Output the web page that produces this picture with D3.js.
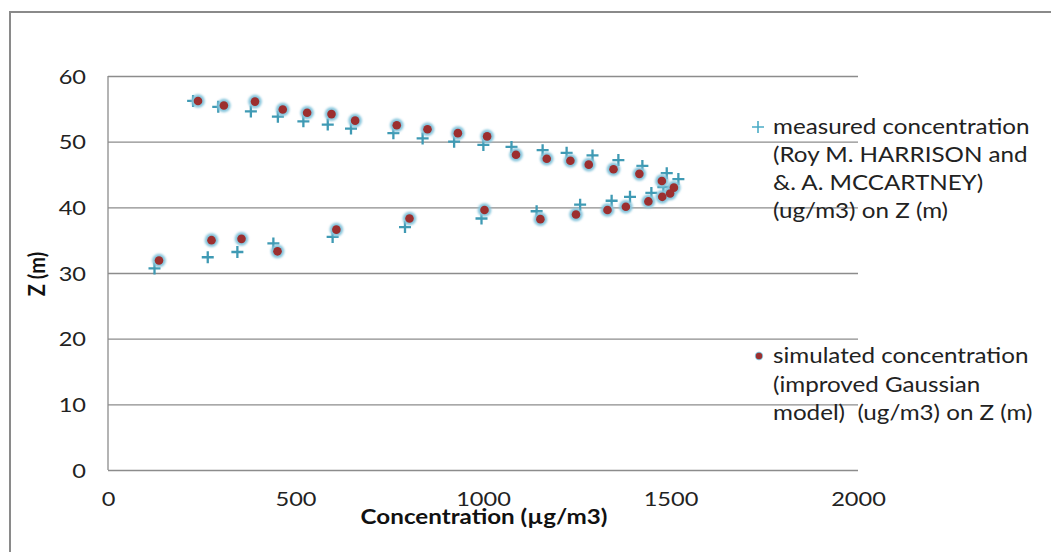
<!DOCTYPE html>
<html><head><meta charset="utf-8">
<script src="https://cdn.jsdelivr.net/npm/d3@7"></script>
<style>
html,body{margin:0;padding:0;background:#fff;}
svg{display:block;font-family:Lato,"Open Sans",sans-serif;}
</style></head>
<body>
<svg id="chart" width="1051" height="552"></svg>
<script>
// Measured concentration (Roy M. HARRISON and A. MCCARTNEY)
const measuredX = [227,294,381,453,521,586,648,761,839,923,1001,1076,1159,1223,1292,1361,1425,1490,1521,
                   1481,1449,1392,1343,1259,1143,996,792,599,441,345,266,124];
const measuredZ = [56.2,55.3,54.6,53.8,53.1,52.6,52.0,51.3,50.5,50.0,49.5,49.2,48.7,48.3,47.9,47.2,46.3,45.2,44.3,
                   43.1,42.2,41.6,41.0,40.4,39.4,38.3,37.0,35.5,34.5,33.2,32.4,30.7];
// Simulated concentration (improved Gaussian model)
const simulatedX = [240,309,392,466,531,596,659,770,852,933,1011,1088,1170,1233,1282,1348,1417,1477,1509,
                    1499,1478,1441,1381,1332,1248,1153,1004,804,609,452,356,276,136];
const simulatedZ = [56.2,55.5,56.1,54.9,54.4,54.2,53.2,52.5,51.9,51.3,50.8,48.0,47.4,47.1,46.5,45.8,45.1,44.0,43.0,
                    42.1,41.6,40.9,40.1,39.6,38.9,38.2,39.6,38.3,36.6,33.3,35.2,35.0,31.9];
const xTicks = [0,500,1000,1500,2000];
const yTicks = [0,10,20,30,40,50,60];
const legendMeasured = ["measured concentration","(Roy M. HARRISON and","&. A. MCCARTNEY)","(ug/m3) on Z (m)"];
const legendSimulated = ["simulated concentration","(improved Gaussian","model)  (ug/m3) on Z (m)"];
const xTitle = "Concentration (\u00b5g/m3)";
const yTitle = "Z (m)";

const SX = 1.18; // horizontal text stretch
const svg = d3.select("#chart");

// glow filter
const defs = svg.append("defs");
const f = defs.append("filter").attr("id","glow").attr("x","-50%").attr("y","-50%").attr("width","200%").attr("height","200%");
f.append("feGaussianBlur").attr("stdDeviation",0.9);

// outer border
svg.append("rect").attr("x",10).attr("y",12).attr("width",1200).attr("height",700)
  .attr("fill","none").attr("stroke","#8a8a8a").attr("stroke-width",2);

const x = d3.scaleLinear().domain([0,2000]).range([108,858]);
const y = d3.scaleLinear().domain([0,60]).range([470,76]);

// gridlines
const grid = svg.append("g").attr("transform","translate(108,0)")
  .call(d3.axisLeft(y).tickValues(yTicks).tickSize(-(858-108)).tickFormat(""));
grid.select(".domain").remove();
grid.selectAll("line").attr("stroke","#8c8c8c").attr("stroke-width",1.3);

// y axis line
svg.append("line").attr("x1",108).attr("x2",108).attr("y1",y(60)).attr("y2",y(0))
  .attr("stroke","#8c8c8c").attr("stroke-width",1.3);

// y tick labels
const yAx = svg.append("g").attr("transform","translate(108,0)")
  .call(d3.axisLeft(y).tickValues(yTicks).tickSize(0).tickPadding(0));
yAx.select(".domain").remove();
yAx.selectAll("text").attr("x",null).attr("dy",null)
  .attr("transform",`translate(-22,7) scale(${SX},1)`)
  .attr("text-anchor","end").attr("font-size",20).attr("fill","#222")
  .attr("font-family","Lato, sans-serif");

// x tick labels
const xAx = svg.append("g").attr("transform","translate(0,470)")
  .call(d3.axisBottom(x).tickValues(xTicks).tickSize(0).tickFormat(d3.format("d")));
xAx.select(".domain").remove();
xAx.selectAll("text").attr("y",null).attr("dy",null)
  .attr("transform",`translate(0,36) scale(${SX},1)`)
  .attr("text-anchor","middle").attr("font-size",20).attr("fill","#222")
  .attr("font-family","Lato, sans-serif");

// axis titles
svg.append("text").attr("transform",`translate(484,524) scale(${SX},1)`)
  .attr("text-anchor","middle").attr("font-weight","bold").attr("font-size",20.5).attr("fill","#111")
  .text(xTitle);
svg.append("text").attr("transform",`translate(45,274) rotate(-90) scale(1,${SX})`)
  .attr("text-anchor","middle").attr("font-weight","bold").attr("font-size",20).attr("fill","#111")
  .text(yTitle);

// measured markers (+)
const measured = measuredX.map((v,i)=>({x:v,z:measuredZ[i]}));
const mg = svg.append("g");
mg.selectAll("path").data(measured).join("path")
  .attr("d", d => `M${x(d.x)-6},${y(d.z)}H${x(d.x)+6}M${x(d.x)},${y(d.z)-6}V${y(d.z)+6}`)
  .attr("stroke","#3f9ab4").attr("stroke-width",2.3).attr("fill","none");

// simulated markers
const simulated = simulatedX.map((v,i)=>({x:v,z:simulatedZ[i]}));
const sg = svg.append("g");
sg.selectAll("circle.glow").data(simulated).join("circle").attr("class","glow")
  .attr("cx",d=>x(d.x)).attr("cy",d=>y(d.z)).attr("r",6.8)
  .attr("fill","#86c5dc").attr("filter","url(#glow)");
sg.selectAll("circle.dot").data(simulated).join("circle").attr("class","dot")
  .attr("cx",d=>x(d.x)).attr("cy",d=>y(d.z)).attr("r",4.3)
  .attr("fill","#9c2f2f");

// legend
const lg = svg.append("g");
lg.append("path").attr("d","M752,127H764M758,121V133").attr("stroke","#4bacc6").attr("stroke-width",1.6);
legendMeasured.forEach((t,i)=>{
  lg.append("text").attr("transform",`translate(773,${134+i*28}) scale(${SX},1)`)
    .attr("font-size",20.5).attr("fill","#222").style("white-space","pre").text(t);
});
lg.append("circle").attr("cx",759).attr("cy",356).attr("r",4.2).attr("fill","#86c5dc");
lg.append("circle").attr("cx",759).attr("cy",356).attr("r",3.2).attr("fill","#9c2f2f");
legendSimulated.forEach((t,i)=>{
  lg.append("text").attr("transform",`translate(773,${363+i*28.5}) scale(${SX},1)`)
    .attr("font-size",20.5).attr("fill","#222").style("white-space","pre").text(t);
});
</script>
</body></html>
